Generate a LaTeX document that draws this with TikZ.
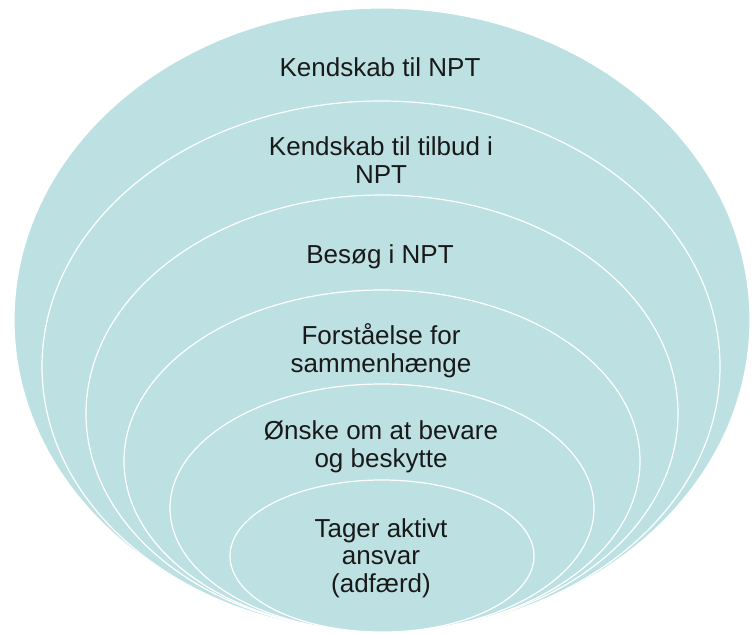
\documentclass[tikz,border=0pt]{standalone}
\usepackage{fontspec}
\setmainfont{Liberation Sans}
\definecolor{bleu}{RGB}{189,224,227}
\begin{document}
\begin{tikzpicture}[x=1pt,y=-1pt]
\tikzset{couche/.style={fill=bleu, draw=white, line width=1.2pt}}
\tikzset{texte/.style={align=center, anchor=base, inner sep=0pt, text=black!90, font=\fontsize{26}{27.5}\selectfont}}
\useasboundingbox (0,0) rectangle (754,634);
\draw[couche] (382,320) ellipse [x radius=368, y radius=312];
\draw[couche] (381,366.5) ellipse [x radius=339, y radius=265.5];
\draw[couche] (382,413.5) ellipse [x radius=296, y radius=218.5];
\draw[couche] (382,461) ellipse [x radius=258, y radius=171];
\draw[couche] (382,508) ellipse [x radius=212, y radius=124];
\draw[couche] (382,556) ellipse [x radius=152, y radius=76];
% base = last line
\node[texte] (T1) at (380,77) {Kendskab til NPT};
\node[texte] (T2) at (381,183) {Kendskab til tilbud i\\NPT};
\node[texte] (T3) at (380,263) {Besøg i NPT};
\node[texte] (T4) at (381,372) {Forståelse for\\sammenhænge};
\node[texte] (T5) at (381,467) {Ønske om at bevare\\og beskytte};
\node[texte] (T6) at (381,592) {Tager aktivt\\ansvar\\(adfærd)};
\end{tikzpicture}
\end{document}
